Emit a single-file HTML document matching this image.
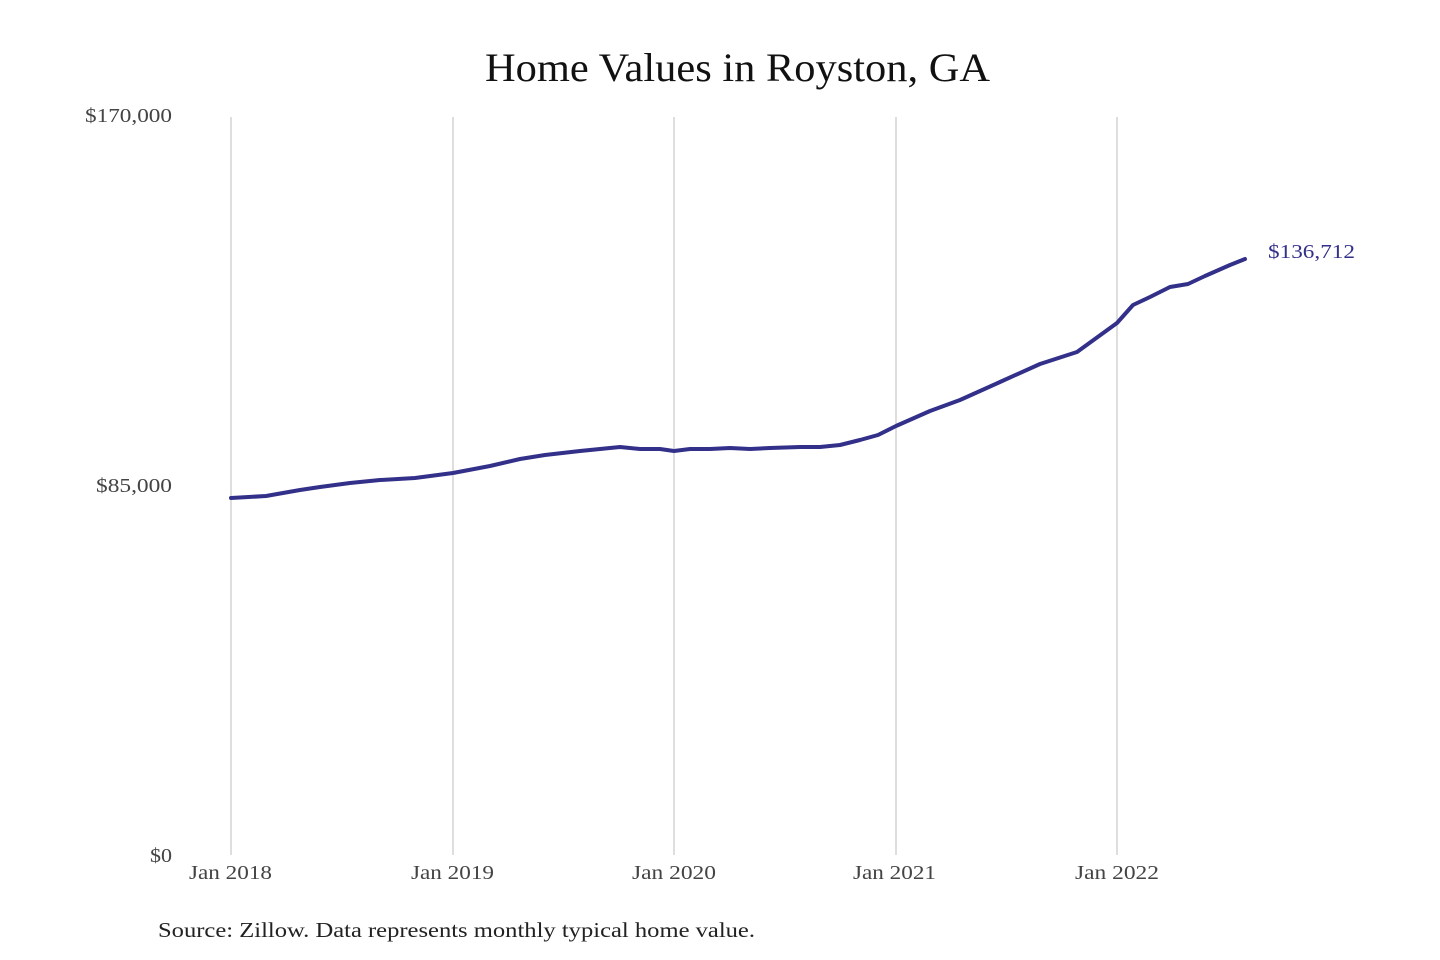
<!DOCTYPE html>
<html><head><meta charset="utf-8"><style>
html,body{margin:0;padding:0;background:#fff;}
svg{display:block;}
text{font-family:"Liberation Serif",serif;}
</style></head><body>
<svg width="1440" height="960" viewBox="0 0 1440 960" xmlns="http://www.w3.org/2000/svg">
<rect width="1440" height="960" fill="#fff"/>
<text x="485" y="81" font-size="40" fill="#111" textLength="505" lengthAdjust="spacingAndGlyphs">Home Values in Royston, GA</text>
<g stroke="#c8c8c8" stroke-width="1.2">
<line x1="231" y1="117" x2="231" y2="855"/>
<line x1="453" y1="117" x2="453" y2="855"/>
<line x1="674" y1="117" x2="674" y2="855"/>
<line x1="896" y1="117" x2="896" y2="855"/>
<line x1="1117" y1="117" x2="1117" y2="855"/>
</g>
<g font-size="20" fill="#444">
<text x="85" y="122" textLength="87" lengthAdjust="spacingAndGlyphs">$170,000</text>
<text x="96" y="492" textLength="76" lengthAdjust="spacingAndGlyphs">$85,000</text>
<text x="150" y="862" textLength="22" lengthAdjust="spacingAndGlyphs">$0</text>
</g>
<g font-size="20" fill="#444">
<text x="189" y="879" textLength="83" lengthAdjust="spacingAndGlyphs">Jan 2018</text>
<text x="411" y="879" textLength="83" lengthAdjust="spacingAndGlyphs">Jan 2019</text>
<text x="632" y="879" textLength="84" lengthAdjust="spacingAndGlyphs">Jan 2020</text>
<text x="853" y="879" textLength="83" lengthAdjust="spacingAndGlyphs">Jan 2021</text>
<text x="1075" y="879" textLength="84" lengthAdjust="spacingAndGlyphs">Jan 2022</text>
</g>
<polyline fill="none" stroke="#33308a" stroke-width="4" stroke-linejoin="round" stroke-linecap="round"
points="231,498 266,496 300,490 320,487 350,483 380,480 415,478 453,473 490,466 520,459 545,455 580,451 620,447 640,449 660,449 674,451 690,449 710,449 730,448 750,449 770,448 800,447 820,447 840,445 860,440 878,435 896,426 930,411 960,400 1000,382 1040,364 1077,352 1117,323 1133,305 1150,297 1170,287 1188,284 1205,276 1230,265 1245,259"/>
<text x="1268" y="258" font-size="20" fill="#33308a" textLength="87" lengthAdjust="spacingAndGlyphs">$136,712</text>
<text x="158" y="937" font-size="21" fill="#222" textLength="597" lengthAdjust="spacingAndGlyphs">Source: Zillow. Data represents monthly typical home value.</text>
</svg>
</body></html>
